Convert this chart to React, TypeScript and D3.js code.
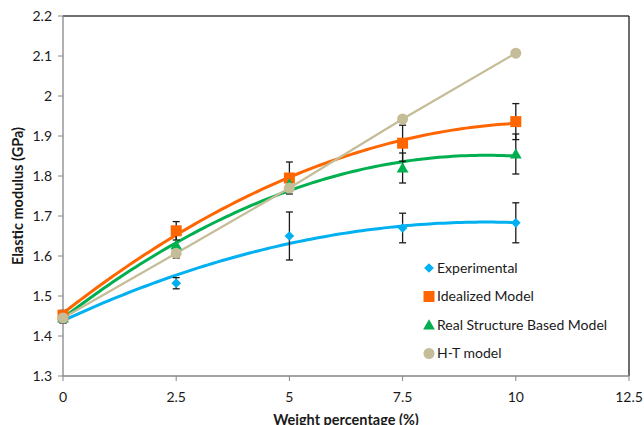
import React from "react";
import * as d3 from "d3";

// Weight percentage (%) of filler
const weights = [0, 2.5, 5, 7.5, 10];

// Elastic modulus (GPa) per series
const experimental = [1.445, 1.532, 1.65, 1.67, 1.683];
const experimentalErr = [0.012, 0.014, 0.06, 0.037, 0.05];

const idealized = [1.452, 1.663, 1.795, 1.882, 1.936];
const idealizedErr = [0.012, 0.023, 0.04, 0.045, 0.045];

const realStructure = [1.445, 1.627, 1.78, 1.82, 1.855];
const realStructureErr = [0.012, 0.032, 0.015, 0.0375, 0.05];

const htModel = [1.445, 1.607, 1.77, 1.9425, 2.107];

const xTicks = [0, 2.5, 5, 7.5, 10, 12.5];
const yTicks = [1.3, 1.4, 1.5, 1.6, 1.7, 1.8, 1.9, 2, 2.1, 2.2];

const W = 644;
const H = 425;
const plot = { left: 63, right: 629, top: 16, bottom: 376 };
const FONT = "Lato, 'Open Sans', sans-serif";

const x = d3.scaleLinear().domain([0, 12.5]).range([plot.left, plot.right]);
const y = d3.scaleLinear().domain([1.3, 2.2]).range([plot.bottom, plot.top]);

// Least-squares quadratic fit (second-order polynomial trendline)
function quadFit(xs: number[], ys: number[]) {
  const n = xs.length;
  const s = [0, 0, 0, 0, 0];
  const t = [0, 0, 0];
  for (let i = 0; i < n; i++) {
    let p = 1;
    for (let k = 0; k < 5; k++) {
      s[k] += p;
      if (k < 3) t[k] += p * ys[i];
      p *= xs[i];
    }
  }
  const A = [
    [s[0], s[1], s[2], t[0]],
    [s[1], s[2], s[3], t[1]],
    [s[2], s[3], s[4], t[2]],
  ];
  for (let c = 0; c < 3; c++) {
    for (let r = c + 1; r < 3; r++) {
      const f = A[r][c] / A[c][c];
      for (let k = c; k < 4; k++) A[r][k] -= f * A[c][k];
    }
  }
  const coef = [0, 0, 0];
  for (let r = 2; r >= 0; r--) {
    let v = A[r][3];
    for (let k = r + 1; k < 3; k++) v -= A[r][k] * coef[k];
    coef[r] = v / A[r][r];
  }
  return (v: number) => coef[0] + coef[1] * v + coef[2] * v * v;
}

const trendSamples = d3.range(0, 10.0001, 0.1);
const lineGen = d3
  .line<[number, number]>()
  .x((d) => x(d[0]))
  .y((d) => y(d[1]));

function trendPath(values: number[]) {
  const f = quadFit(weights, values);
  return lineGen(trendSamples.map((v) => [v, f(v)] as [number, number])) || "";
}

const symDiamond = d3.symbol().type(d3.symbolDiamond2).size(60)() || "";
const symTriangle = d3.symbol().type(d3.symbolTriangle).size(60)() || "";

function ErrorBars({ values, errs }: { values: number[]; errs: number[] }) {
  return (
    <g stroke="#1a1a1a" strokeWidth={1.3}>
      {values.map((v, i) => {
        const cx = x(weights[i]);
        const y1 = y(v + errs[i]);
        const y2 = y(v - errs[i]);
        return (
          <g key={i}>
            <line x1={cx} x2={cx} y1={y1} y2={y2} />
            <line x1={cx - 3.5} x2={cx + 3.5} y1={y1} y2={y1} />
            <line x1={cx - 3.5} x2={cx + 3.5} y1={y2} y2={y2} />
          </g>
        );
      })}
    </g>
  );
}

const legendItems = [
  { label: "Experimental", color: "#00B0F0", shape: "diamond" },
  { label: "Idealized Model", color: "#FF6600", shape: "square" },
  { label: "Real Structure Based Model", color: "#00B050", shape: "triangle" },
  { label: "H-T model", color: "#C4BD97", shape: "circle" },
];

function Marker({ shape, color, cx, cy }: { shape: string; color: string; cx: number; cy: number }) {
  if (shape === "diamond")
    return <path d={symDiamond} transform={`translate(${cx},${cy})`} fill={color} />;
  if (shape === "square")
    return <rect x={cx - 5.5} y={cy - 5.5} width={11} height={11} fill={color} />;
  if (shape === "triangle")
    return <path d={symTriangle} transform={`translate(${cx},${cy + 1})`} fill={color} />;
  return <circle cx={cx} cy={cy} r={5.5} fill={color} />;
}

export default function App() {
  const htPath = lineGen(weights.map((w, i) => [w, htModel[i]] as [number, number])) || "";
  return (
    <svg
      width={W}
      height={H}
      style={{ position: "absolute", left: 0, top: 0, background: "#fff" }}
      fontFamily={FONT}
    >
      {/* plot frame */}
      <line x1={plot.left} x2={plot.right} y1={plot.top} y2={plot.top} stroke="#404040" strokeWidth={1.3} />
      <line x1={plot.right} x2={plot.right} y1={plot.top} y2={plot.bottom} stroke="#202020" strokeWidth={1.3} />
      <line x1={plot.left} x2={plot.left} y1={plot.top} y2={plot.bottom} stroke="#868686" strokeWidth={1.3} />
      <line x1={plot.left} x2={plot.right} y1={plot.bottom} y2={plot.bottom} stroke="#868686" strokeWidth={1.3} />

      {/* y axis ticks and labels */}
      {yTicks.map((t) => (
        <g key={t}>
          <line x1={plot.left - 5} x2={plot.left} y1={y(t)} y2={y(t)} stroke="#868686" strokeWidth={1} />
          <text x={plot.left - 11} y={y(t)} dy="0.35em" textAnchor="end" fontSize={14} fill="#1a1a1a">
            {d3.format("~g")(t)}
          </text>
        </g>
      ))}

      {/* x axis ticks and labels */}
      {xTicks.map((t) => (
        <g key={t}>
          <line x1={x(t)} x2={x(t)} y1={plot.bottom} y2={plot.bottom + 5} stroke="#868686" strokeWidth={1} />
          <text x={x(t)} y={plot.bottom + 21} dy="0.35em" textAnchor="middle" fontSize={14} fill="#1a1a1a">
            {d3.format("~g")(t)}
          </text>
        </g>
      ))}

      {/* axis titles */}
      <text x={346} y={425} textAnchor="middle" fontSize={14.5} fontWeight="bold" fill="#1a1a1a">
        Weight percentage (%)
      </text>
      <text
        transform="translate(23,196) rotate(-90)"
        textAnchor="middle"
        fontSize={14.5}
        fontWeight="bold"
        fill="#1a1a1a"
      >
        Elastic modulus (GPa)
      </text>

      {/* trendlines and series line */}
      <path d={trendPath(experimental)} fill="none" stroke="#00B0F0" strokeWidth={3} />
      <path d={trendPath(idealized)} fill="none" stroke="#FF6600" strokeWidth={3} />
      <path d={trendPath(realStructure)} fill="none" stroke="#00B050" strokeWidth={3} />
      <path d={htPath} fill="none" stroke="#C4BD97" strokeWidth={2.2} />

      {/* error bars */}
      <ErrorBars values={experimental} errs={experimentalErr} />
      <ErrorBars values={idealized} errs={idealizedErr} />
      <ErrorBars values={realStructure} errs={realStructureErr} />

      {/* markers */}
      {experimental.map((v, i) => (
        <Marker key={`e${i}`} shape="diamond" color="#00B0F0" cx={x(weights[i])} cy={y(v)} />
      ))}
      {idealized.map((v, i) => (
        <Marker key={`i${i}`} shape="square" color="#FF6600" cx={x(weights[i])} cy={y(v)} />
      ))}
      {realStructure.map((v, i) => (
        <Marker key={`r${i}`} shape="triangle" color="#00B050" cx={x(weights[i])} cy={y(v)} />
      ))}
      {htModel.map((v, i) => (
        <Marker key={`h${i}`} shape="circle" color="#C4BD97" cx={x(weights[i])} cy={y(v)} />
      ))}

      {/* legend */}
      {legendItems.map((item, i) => {
        const ly = 268 + i * 28.5;
        return (
          <g key={item.label}>
            <Marker shape={item.shape} color={item.color} cx={429} cy={ly} />
            <text x={437} y={ly} dy="0.35em" fontSize={14} fill="#1a1a1a">
              {item.label}
            </text>
          </g>
        );
      })}
    </svg>
  );
}
